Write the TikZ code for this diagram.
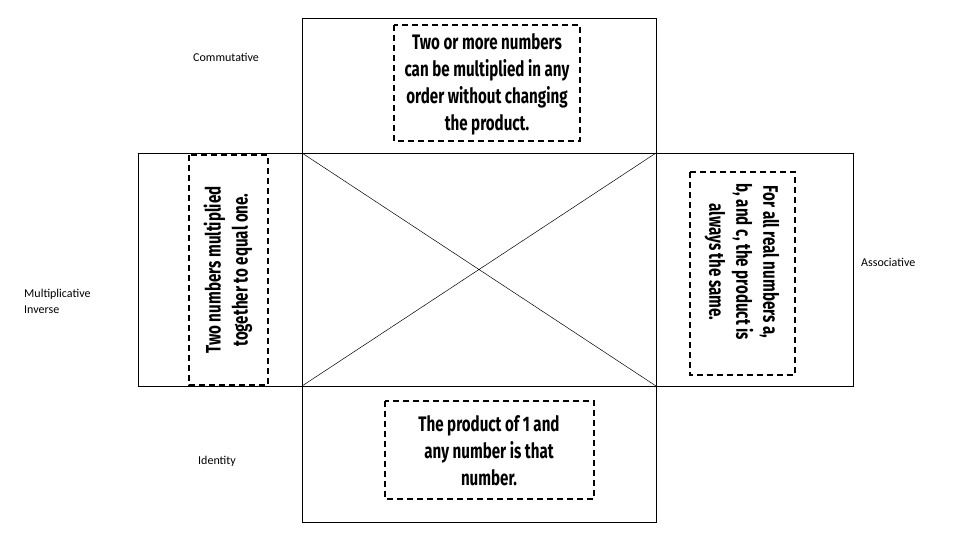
\documentclass[tikz,border=0pt]{standalone}
\usepackage{fontspec}
\setmainfont{Carlito}
\newfontfamily\hand{Fira Sans}[FakeStretch=0.72]
\begin{document}
\begin{tikzpicture}[x=1pt,y=-1pt,
  panel/.style={draw=black,line width=0.9pt},
  dbox/.style={draw=black,line width=1.6pt,dash pattern=on 6pt off 4pt},
  card/.style={font=\hand\bfseries\fontsize{21}{27}\selectfont,align=center,inner sep=0pt},
  lab/.style={font=\fontsize{12}{16}\selectfont,align=left,inner sep=0pt}]
\useasboundingbox (0,0) rectangle (960,540);
\coordinate (c1) at (302,153); \coordinate (c2) at (656,153);
\coordinate (c3) at (656,386); \coordinate (c4) at (302,386);
\draw[panel] (302,18) rectangle (656,153);
\draw[panel] (302,386) rectangle (656,522);
\draw[panel] (138,153) rectangle (302,386);
\draw[panel] (656,153) rectangle (853,386);
\draw[panel] (c1) rectangle (c3);
\draw[line width=0.5pt] (c1) -- (c3) (c2) -- (c4);
\draw[dbox] (394,25) rectangle (580,141);
\node[card] (t) at (487,84) {Two or more numbers\\can be multiplied in any\\order without changing\\the product.};
\draw[dbox] (189,155) rectangle (268,385);
\node[card,rotate=90] (l) at (228,270) {Two numbers multiplied\\together to equal one.};
\draw[dbox] (690,172) rectangle (795,375);
\node[card,rotate=-90] (r) at (742,262) {For all real numbers a,\\b, and c, the product is\\always the same.};
\draw[dbox] (385,401) rectangle (594,499);
\node[card] (b) at (489,451) {The product of 1 and\\any number is that\\number.};
\node[lab,anchor=west] (cm) at (193,57) {Commutative};
\node[lab,anchor=west] (as) at (861,262) {Associative};
\node[lab,anchor=west] (mi) at (24,301) {Multiplicative\\Inverse};
\node[lab,anchor=west] (id) at (198,461) {Identity};
\end{tikzpicture}
\end{document}
